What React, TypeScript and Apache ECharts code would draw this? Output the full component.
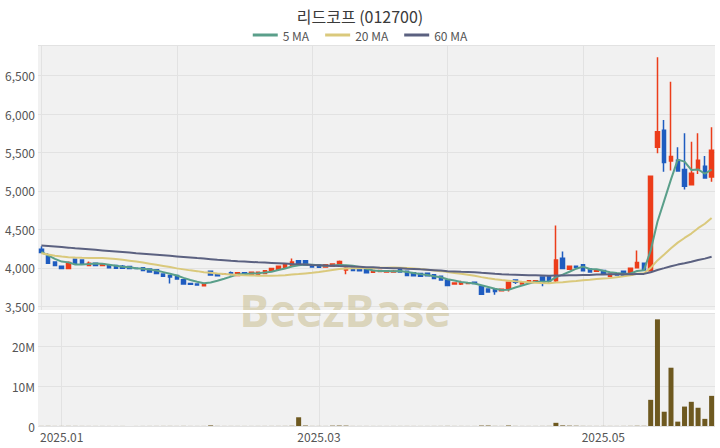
import { useEffect, useRef } from 'react';
import * as echarts from 'echarts';

const dates = [
  '2024.12.26', '2024.12.27', '2024.12.30',
  '2025.01.02', '2025.01.03', '2025.01.06', '2025.01.07', '2025.01.08', '2025.01.09', '2025.01.10',
  '2025.01.13', '2025.01.14', '2025.01.15', '2025.01.16', '2025.01.17', '2025.01.20', '2025.01.21',
  '2025.01.22', '2025.01.23', '2025.01.24', '2025.01.31',
  '2025.02.03', '2025.02.04', '2025.02.05', '2025.02.06', '2025.02.07', '2025.02.10', '2025.02.11',
  '2025.02.12', '2025.02.13', '2025.02.14', '2025.02.17', '2025.02.18', '2025.02.19', '2025.02.20',
  '2025.02.21', '2025.02.24', '2025.02.25', '2025.02.26', '2025.02.27', '2025.02.28',
  '2025.03.04', '2025.03.05', '2025.03.06', '2025.03.07', '2025.03.10', '2025.03.11', '2025.03.12',
  '2025.03.13', '2025.03.14', '2025.03.17', '2025.03.18', '2025.03.19', '2025.03.20', '2025.03.21',
  '2025.03.24', '2025.03.25', '2025.03.26', '2025.03.27', '2025.03.28', '2025.03.31',
  '2025.04.01', '2025.04.02', '2025.04.03', '2025.04.04', '2025.04.07', '2025.04.08', '2025.04.09',
  '2025.04.10', '2025.04.11', '2025.04.14', '2025.04.15', '2025.04.16', '2025.04.17', '2025.04.18',
  '2025.04.21', '2025.04.22', '2025.04.23', '2025.04.24', '2025.04.25', '2025.04.28', '2025.04.29',
  '2025.04.30',
  '2025.05.02', '2025.05.07', '2025.05.08', '2025.05.09', '2025.05.12', '2025.05.13', '2025.05.14',
  '2025.05.15', '2025.05.16', '2025.05.19', '2025.05.20', '2025.05.21', '2025.05.22', '2025.05.23',
  '2025.05.26', '2025.05.27', '2025.05.28',
];

const opens = [
  4240, 4150, 4075, 4020, 3990, 4110, 4100, 4030, 4060, 4030,
  4030, 4030, 4020, 4015, 3995, 4000, 3985, 3975, 3920, 3900,
  3900, 3845, 3795, 3790, 3765, 3955, 3920, 3915, 3935, 3900,
  3935, 3915, 3915, 3925, 3955, 3980, 4000, 4025, 4090, 4090,
  4040, 4035, 4010, 4020, 4040, 3970, 3995, 3990, 3975, 3940,
  3950, 3945, 3945, 3995, 3955, 3935, 3925, 3930, 3910, 3890,
  3840, 3790, 3790, 3795, 3810, 3760, 3725, 3715, 3700, 3720,
  3840, 3790, 3810, 3815, 3880, 3890, 3830, 4125, 3980, 4020,
  4040, 3985, 3955, 3965, 3885, 3915, 3955, 3910, 4000, 4060,
  3960, 5570, 5790, 5390, 5400, 5280, 5080, 5290, 5320, 5180,
];
const closes = [
  4200, 4060, 4030, 3990, 4070, 4060, 4060, 4060, 4030, 4050,
  4000, 3995, 3995, 3990, 3990, 3965, 3945, 3925, 3890, 3880,
  3855, 3790, 3785, 3775, 3790, 3905, 3895, 3920, 3915, 3935,
  3915, 3940, 3940, 3960, 3990, 4020, 4040, 4075, 4035, 4035,
  4010, 4005, 4040, 4050, 4080, 3995, 3965, 3960, 3935, 3965,
  3965, 3960, 3955, 3945, 3900, 3895, 3890, 3895, 3860, 3840,
  3770, 3800, 3805, 3805, 3795, 3655, 3685, 3690, 3720, 3810,
  3810, 3810, 3830, 3830, 3805, 3825, 4100, 3990, 4020, 4005,
  3960, 3945, 3975, 3915, 3915, 3905, 3900, 3995, 4070, 3970,
  5190, 5770, 5370, 5450, 5260, 5060, 5230, 5400, 5170, 5530,
];
const lows = [
  4190, 4050, 4020, 3980, 3985, 4050, 4055, 4020, 4025, 4025,
  3995, 3990, 3990, 3985, 3980, 3960, 3940, 3920, 3880, 3795,
  3850, 3780, 3780, 3770, 3760, 3900, 3890, 3910, 3900, 3895,
  3910, 3910, 3910, 3920, 3950, 3975, 3995, 4020, 4030, 4030,
  4005, 4000, 4005, 4015, 4035, 3915, 3960, 3955, 3930, 3935,
  3945, 3940, 3935, 3940, 3895, 3890, 3885, 3890, 3855, 3835,
  3765, 3785, 3775, 3790, 3790, 3650, 3680, 3650, 3690, 3690,
  3790, 3785, 3800, 3805, 3760, 3800, 3810, 3980, 3975, 4000,
  3955, 3940, 3950, 3905, 3880, 3900, 3895, 3905, 3995, 3965,
  3950, 5490, 5250, 5265, 5250, 5020, 5075, 5220, 5160, 5120,
];
const highs = [
  4280, 4190, 4080, 4025, 4080, 4115, 4105, 4080, 4065, 4055,
  4035, 4040, 4035, 4020, 4000, 4005, 3990, 3980, 3925, 3910,
  3905, 3850, 3800, 3795, 3795, 3960, 3925, 3925, 3950, 3945,
  3940, 3945, 3945, 3965, 3995, 4025, 4045, 4120, 4100, 4095,
  4045, 4040, 4045, 4055, 4095, 4005, 4000, 3995, 3980, 3970,
  3970, 3965, 3970, 4000, 3960, 3940, 3930, 3935, 3915, 3895,
  3845, 3805, 3830, 3810, 3815, 3765, 3730, 3720, 3725, 3815,
  3850, 3815, 3835, 3835, 3885, 3895, 4550, 4210, 4025, 4030,
  4050, 3990, 3980, 3970, 3920, 3920, 3960, 4000, 4225, 4065,
  5190, 6740, 5925, 6420, 5570, 5750, 5640, 5750, 5455, 5830,
];
const volumes = [
  22000, 31000, 18000, 20000, 26000, 24000, 19000, 16000, 14000, 15000,
  13000, 12000, 14000, 13000, 11000, 15000, 17000, 19000, 21000, 24000,
  18000, 26000, 16000, 15000, 19000, 150000, 26000, 16000, 19000, 17000,
  14000, 15000, 17000, 19000, 21000, 23000, 26000, 60000, 2200000, 120000,
  22000, 20000, 17000, 90000, 110000, 95000, 19000, 15000, 16000, 14000,
  15000, 13000, 15000, 17000, 20000, 16000, 14000, 15000, 19000, 22000,
  31000, 17000, 19000, 15000, 14000, 110000, 120000, 28000, 22000, 125000,
  26000, 16000, 18000, 17000, 24000, 29000, 800000, 150000, 90000, 70000,
  31000, 22000, 20000, 23000, 21000, 19000, 24000, 35000, 60000, 44000,
  6600000, 26900000, 3600000, 14700000, 1100000, 4900000, 6100000, 4600000, 1800000, 7600000,
];
const ma5 = [
  4205, 4160, 4115, 4080, 4070, 4042, 4042, 4048, 4056, 4052,
  4040, 4027, 4014, 4006, 3994, 3987, 3977, 3963, 3943, 3921,
  3899, 3868, 3840, 3817, 3799, 3809, 3830, 3857, 3885, 3914,
  3916, 3925, 3929, 3938, 3949, 3970, 3990, 4017, 4032, 4041,
  4039, 4032, 4025, 4028, 4037, 4034, 4026, 4010, 3987, 3964,
  3958, 3957, 3956, 3958, 3945, 3931, 3917, 3905, 3888, 3876,
  3851, 3833, 3815, 3804, 3795, 3772, 3749, 3726, 3709, 3712,
  3743, 3768, 3796, 3818, 3817, 3820, 3878, 3910, 3948, 3988,
  4015, 3984, 3981, 3960, 3942, 3931, 3922, 3926, 3957, 3968,
  4225, 4599, 4874, 5150, 5408, 5382, 5274, 5280, 5224, 5278,
];
const ma20 = [
  4190, 4172, 4156, 4145, 4138, 4133, 4130, 4128, 4128, 4127,
  4122, 4113, 4103, 4092, 4080, 4067, 4053, 4039, 4024, 4009,
  3992, 3979, 3966, 3956, 3942, 3934, 3926, 3919, 3913, 3907,
  3903, 3900, 3897, 3896, 3896, 3899, 3903, 3911, 3918, 3926,
  3934, 3944, 3957, 3971, 3985, 3990, 3993, 3995, 3996, 3998,
  4000, 4001, 4002, 4001, 3997, 3991, 3983, 3974, 3965, 3956,
  3944, 3933, 3922, 3909, 3895, 3878, 3864, 3851, 3840, 3832,
  3824, 3817, 3811, 3805, 3800, 3797, 3807, 3812, 3820, 3828,
  3838, 3845, 3853, 3859, 3865, 3877, 3888, 3903, 3921, 3929,
  3998, 4096, 4173, 4254, 4327, 4388, 4445, 4515, 4573, 4649,
];
const ma60 = [
  4290, 4283, 4276, 4269, 4262, 4254, 4247, 4240, 4233, 4226,
  4219, 4212, 4205, 4198, 4190, 4183, 4176, 4169, 4162, 4155,
  4148, 4141, 4134, 4126, 4119, 4112, 4104, 4097, 4090, 4084,
  4080, 4076, 4071, 4067, 4063, 4059, 4055, 4050, 4046, 4042,
  4037, 4033, 4029, 4026, 4022, 4019, 4015, 4012, 4008, 4005,
  4001, 3998, 3995, 3992, 3988, 3985, 3979, 3974, 3969, 3964,
  3956, 3952, 3948, 3945, 3941, 3934, 3928, 3921, 3916, 3912,
  3909, 3906, 3903, 3901, 3898, 3895, 3898, 3899, 3901, 3903,
  3905, 3907, 3911, 3913, 3915, 3915, 3915, 3916, 3919, 3920,
  3941, 3971, 3995, 4020, 4041, 4058, 4078, 4100, 4119, 4144,
];
const labelDates = ['2025.01.02', '2025.03.04', '2025.05.02'];
const maNames = ['5 MA', '20 MA', '60 MA'];
const maColors = ['#5a9f8a', '#dac97c', '#5b6180'];

const FONT = "'Noto Sans CJK KR', 'Noto Sans', sans-serif";

export default function App() {
  const ref = useRef<HTMLDivElement>(null);
  useEffect(() => {
    if (!ref.current) return;
    const chart = echarts.init(ref.current, null, { renderer: 'svg' });
    const labelIdx = labelDates.map((d) => dates.indexOf(d));
    const showAt = (i: number) => labelIdx.indexOf(i) >= 0;
    const candle = dates.map((_, i) => [opens[i], closes[i], lows[i], highs[i]]);
    const up = '#ec3d1a';
    const down = '#1f5cc0';
    const grid = '#e2e2e2';
    const maData = [ma5, ma20, ma60];
    chart.setOption({
      animation: false,
      backgroundColor: '#ffffff',
      textStyle: { fontFamily: FONT },
      title: {
        text: '리드코프 (012700)',
        left: 'center',
        top: 3,
        textStyle: { fontSize: 16, fontWeight: 'normal', color: '#3a3a3a', fontFamily: FONT },
      },
      legend: {
        top: 24,
        left: 'center',
        icon: 'rect',
        itemWidth: 25,
        itemHeight: 3,
        itemGap: 16,
        textStyle: { fontSize: 12, color: '#555', fontFamily: FONT },
        data: maNames,
      },
      graphic: [
        {
          type: 'text',
          x: 345,
          y: 309,
          z: 1,
          silent: true,
          style: {
            text: 'BeezBase',
            fontSize: 45,
            fontWeight: 'bold',
            fontFamily: "'Open Sans', sans-serif",
            fill: 'rgba(205,194,152,0.62)',
            align: 'center',
            verticalAlign: 'middle',
          },
        },
        {
          type: 'rect',
          z: 1.5,
          silent: true,
          shape: { x: 38, y: 310, width: 677, height: 3 },
          style: { fill: '#ffffff' },
        },
      ],
      grid: [
        { left: 38, right: 5, top: 45, height: 265, show: true, backgroundColor: '#f1f1f1', borderWidth: 0 },
        { left: 38, right: 5, top: 313, height: 113, show: true, backgroundColor: '#f1f1f1', borderWidth: 0 },
      ],
      xAxis: [
        {
          type: 'category',
          gridIndex: 0,
          data: dates,
          boundaryGap: true,
          axisLine: { show: false },
          axisTick: { show: false },
          axisLabel: { show: false },
          splitLine: { show: true, interval: 19, alignWithLabel: true, lineStyle: { color: grid, width: 1 } },
        },
        {
          type: 'category',
          gridIndex: 1,
          data: dates,
          boundaryGap: true,
          axisLine: { show: false },
          axisTick: { show: false },
          axisLabel: {
            interval: (i: number) => showAt(i),
            formatter: (v: string) => v.slice(0, 7),
            color: '#555',
            fontSize: 12,
            margin: 4,
            fontFamily: FONT,
          },
          splitLine: {
            show: true,
            interval: (i: number) => showAt(i),
            alignWithLabel: true,
            lineStyle: { color: grid, width: 1 },
          },
        },
      ],
      yAxis: [
        {
          type: 'value',
          gridIndex: 0,
          min: 3450,
          max: 6900,
          axisLine: { show: false },
          axisTick: { show: false },
          axisLabel: {
            showMinLabel: false,
            showMaxLabel: false,
            formatter: (v: number) => (v % 500 === 0 ? v.toLocaleString('en-US') : ''),
            color: '#555',
            fontSize: 12,
            margin: 3,
            fontFamily: FONT,
          },
          splitLine: { show: true, lineStyle: { color: grid, width: 1 } },
        },
        {
          type: 'value',
          gridIndex: 1,
          min: 0,
          max: 28500000,
          interval: 10000000,
          axisLine: { show: false },
          axisTick: { show: false },
          axisLabel: {
            showMaxLabel: false,
            formatter: (v: number) => (v === 0 ? '0' : v % 10000000 === 0 ? v / 1000000 + 'M' : ''),
            color: '#555',
            fontSize: 12,
            margin: 3,
            fontFamily: FONT,
          },
          splitLine: { show: true, lineStyle: { color: grid, width: 1 } },
        },
      ],
      series: [
        {
          type: 'candlestick',
          name: 'price',
          xAxisIndex: 0,
          yAxisIndex: 0,
          data: candle,
          barWidth: 4,
          itemStyle: { color: up, color0: down, borderColor: up, borderColor0: down, borderWidth: 1.5 },
        },
        ...maNames.map((n, k) => ({
          type: 'line',
          name: n,
          xAxisIndex: 0,
          yAxisIndex: 0,
          data: maData[k],
          symbol: 'none',
          showSymbol: false,
          lineStyle: { width: 2, color: maColors[k] },
          itemStyle: { color: maColors[k] },
          z: 3,
        })),
        {
          type: 'bar',
          name: 'volume',
          xAxisIndex: 1,
          yAxisIndex: 1,
          data: volumes,
          barWidth: 5,
          itemStyle: { color: '#6e5920' },
        },
      ],
    });
    return () => chart.dispose();
  }, []);
  return <div ref={ref} style={{ position: 'fixed', left: 0, top: 0, width: 720, height: 448 }} />;
}
